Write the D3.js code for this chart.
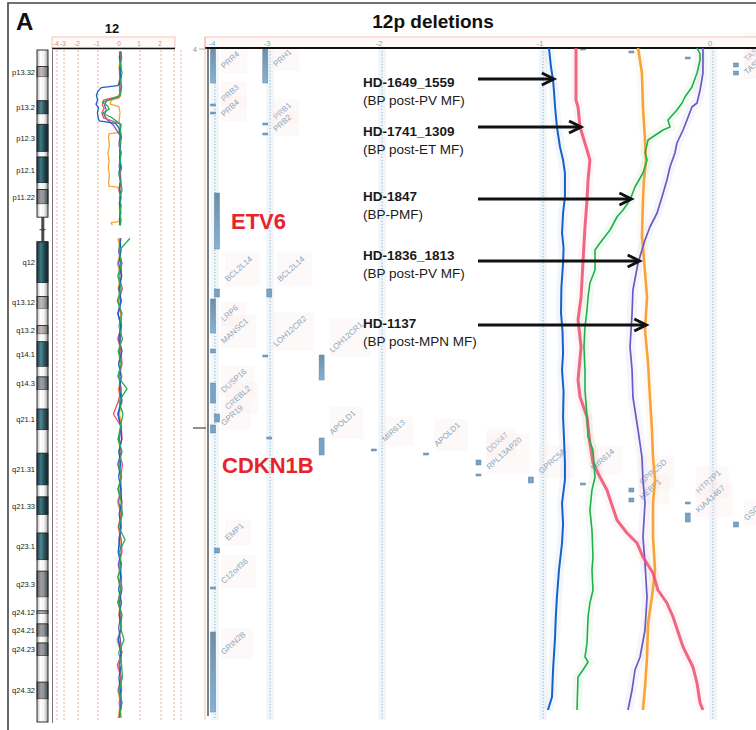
<!DOCTYPE html>
<html>
<head>
<meta charset="utf-8">
<script src="https://cdn.jsdelivr.net/npm/d3@7"></script>
<style>
  body { margin: 0; background: #fff; }
  svg { display: block; font-family: "Liberation Sans", Arial, sans-serif; }
</style>
</head>
<body>
<script>
// ---------------- samples ----------------
const sampleIds      = ["HD-1649_1559", "HD-1741_1309", "HD-1847", "HD-1836_1813", "HD-1137"];
const sampleSubtypes = ["(BP post-PV MF)", "(BP post-ET MF)", "(BP-PMF)", "(BP post-PV MF)", "(BP post-MPN MF)"];

// ---------------- chromosome 12 ideogram (hg19, Mb) ----------------
const bandNames  = ["p13.33","p13.32","p13.31","p13.2","p13.1","p12.3","p12.2","p12.1","p11.23","p11.22","p11.21","p11.1",
                    "q11","q12","q13.11","q13.12","q13.13","q13.2","q13.3","q14.1","q14.2","q14.3","q15","q21.1","q21.2",
                    "q21.31","q21.32","q21.33","q22","q23.1","q23.2","q23.3","q24.11","q24.12","q24.13","q24.21","q24.22",
                    "q24.23","q24.31","q24.32","q24.33"];
const bandStart  = [0,3.3,5.4,10.1,12.8,14.8,20.3,21.3,26.5,27.8,30.7,33.3,
                    35.8,38.2,46.4,49.1,51.5,54.9,56.6,58.1,63.1,65.1,67.7,71.5,75.7,
                    80.3,86.7,89.0,92.6,96.2,101.6,103.8,109.0,111.7,112.3,114.3,116.8,
                    118.1,120.7,125.9,129.3];
const bandEnd    = [3.3,5.4,10.1,12.8,14.8,20.3,21.3,26.5,27.8,30.7,33.3,35.8,
                    38.2,46.4,49.1,51.5,54.9,56.6,58.1,63.1,65.1,67.7,71.5,75.7,80.3,
                    86.7,89.0,92.6,96.2,101.6,103.8,109.0,111.7,112.3,114.3,116.8,118.1,
                    120.7,125.9,129.3,133.85];
const bandStain  = ["gneg","gpos25","gneg","gpos75","gneg","gpos100","gneg","gpos100","gneg","gpos50","gneg","acen",
                    "acen","gpos100","gneg","gpos25","gneg","gpos25","gneg","gpos75","gneg","gpos50","gneg","gpos75","gneg",
                    "gpos100","gneg","gpos100","gneg","gpos75","gneg","gpos50","gneg","gpos25","gneg","gpos50","gneg",
                    "gpos50","gneg","gpos50","gneg"];
const labeledBands = ["p13.32","p13.2","p12.3","p12.1","p11.22","q12","q13.12","q13.2","q14.1","q14.3","q21.1",
                      "q21.31","q21.33","q23.1","q23.3","q24.12","q24.21","q24.23","q24.32"];
const chrLength = 133.85, pArmEnd = 33.3, qArmStart = 38.2, centromere = 35.8;

// ---------------- whole-chromosome log2 ratio (Mb, log2) ----------------
const chrP_blue = [[0.3,0.02],[1.5,-0.03],[3,0.04],[4.5,0.0],[5.5,0.05],[6.5,-0.02],[7.1,-0.1],[7.5,-0.85],[8.2,-1.0],[9,-1.08],
  [10,-1.02],[10.8,-1.1],[11.5,-0.98],[12.5,-1.03],[13.3,-1.0],[14.1,-0.95],[14.6,-0.2],[15.5,-0.05],[17,0.02],[18.5,-0.04],
  [20,0.03],[21.5,-0.02],[23,0.04],[24.5,-0.05],[26,0.02],[27.5,-0.03],[29,0.04],[30.5,-0.02],[32,0.03],[33.5,-0.01],[34.9,0.02]];
const chrP_red = [[0.3,0.03],[2,0.0],[3.5,0.05],[5,-0.02],[6.5,0.04],[8,-0.03],[9.2,0.02],[9.6,-0.4],[10,-0.75],[11,-0.8],
  [11.6,-0.72],[12.5,-0.82],[13.5,-0.75],[14.2,-0.3],[14.8,0.05],[16,-0.02],[17.5,0.05],[19,-0.03],[20.5,0.04],[22,-0.02],
  [23.5,0.05],[25,0.0],[26.5,0.04],[28,-0.03],[29.5,0.05],[31,0.0],[32.5,0.04],[34,-0.02],[34.9,0.03]];
const chrP_green = [[0.3,0.05],[1.5,0.08],[3,0.02],[4.5,0.1],[6,0.04],[7.5,0.08],[9,0.02],[9.8,-0.35],[10.4,-0.8],[11.2,-0.55],
  [11.8,-0.5],[12.6,-0.8],[13.4,-0.4],[14.2,-0.15],[14.9,0.05],[16,0.02],[17.5,0.08],[19,-0.04],[20.5,0.06],[22,0.0],
  [23.5,0.08],[25,-0.04],[26.5,0.05],[28,0.1],[29.5,-0.03],[31,0.06],[32.5,0.0],[34,0.05],[34.9,0.02]];
const chrP_purple = [[0.3,0.0],[2,0.04],[3.5,-0.02],[5,0.03],[6.5,-0.04],[8,0.02],[9.4,-0.05],[10,-0.6],[11,-0.7],[12,-0.62],
  [13,-0.72],[14,-0.55],[15,-0.3],[16.3,-0.1],[17,0.0],[18.5,0.04],[20,-0.02],[21.5,0.03],[23,-0.04],[24.5,0.02],
  [26,0.04],[27.5,-0.02],[29,0.03],[30.5,-0.03],[32,0.02],[33.5,0.0],[34.9,-0.02]];
const chrP_orange = [[0.3,-0.03],[2,0.02],[3.5,-0.05],[5,0.01],[6.5,-0.04],[8,0.0],[9.6,-0.05],[10,-0.4],[10.8,-0.45],[11.3,-0.05],
  [12.5,0.0],[14,-0.04],[15.5,0.0],[16.4,-0.05],[16.7,-0.5],[17.5,-0.52],[19,-0.48],[20.5,-0.55],[22,-0.5],[23.5,-0.53],
  [25,-0.48],[26.5,-0.52],[27.1,-0.5],[27.3,-0.1],[28.5,-0.02],[30,0.02],[31.5,-0.03],[33,0.0],[34.2,-0.05],[34.4,-0.4],[34.9,-0.35]];

const qPos = [37.5,40,42.5,45,47.5,50,52.5,55,57.5,60,
              62.5,65,67.5,70,72.5,75,77.5,80,82.5,85,
              87.5,90,92.5,95,97.5,100,102.5,105,107.5,110,
              112.5,115,117.5,120,122.5,125,127.5,130,133];
const chrQ_blue   = [0,0.05,-0.06,0.08,-0.04,0.06,-0.08,0.04,-0.05,0.1,
                     -0.06,0.05,-0.02,0.06,-0.1,0.04,0.08,-0.05,0.03,-0.06,
                     0.05,0.08,-0.04,0.06,-0.03,-0.08,0.05,0.02,-0.06,0.07,
                     -0.03,0.05,-0.08,0.04,0.06,-0.05,0.02,0.08,-0.04];
const chrQ_red    = [0.05,-0.04,0.1,-0.05,0.12,-0.06,0.04,0.08,-0.1,0.05,
                     0.1,-0.04,0.06,-0.08,-0.3,0.06,0.1,-0.05,0.12,0.04,
                     -0.06,0.1,0.05,-0.08,0.06,0.1,-0.04,0.08,0.02,-0.1,
                     0.06,0.04,-0.06,0.1,-0.12,0.05,0.08,-0.04,0.06];
const chrQ_green  = [0.5,-0.05,0.08,-0.1,0.05,-0.12,0.1,-0.05,0.12,-0.08,
                     0.06,-0.1,0.35,-0.05,0.15,0.02,-0.08,0.1,-0.05,0.08,
                     -0.1,0.06,0.12,-0.06,0.25,-0.04,0.08,-0.1,0.05,-0.08,
                     0.1,0.02,0.2,-0.06,0.08,0.12,-0.05,0.1,-0.02];
const chrQ_purple = [0.02,-0.06,0.04,0.08,-0.05,0.03,-0.1,0.06,0.02,-0.04,
                     0.08,-0.06,0.04,0.1,-0.08,0.05,-0.03,0.06,-0.1,0.04,
                     0.02,-0.06,0.08,0.03,-0.05,0.06,-0.08,0.04,0.1,-0.03,
                     0.05,-0.06,0.02,0.08,-0.04,0.03,-0.06,0.05,-0.02];
const chrQ_orange = [-0.1,0.04,-0.12,0.02,-0.08,0.06,-0.1,0.08,-0.04,0.02,
                     -0.06,0.1,-0.08,0.04,-0.02,0.06,-0.1,0.05,-0.06,0.02,
                     0.08,-0.12,0.04,-0.05,0.03,-0.08,0.06,-0.1,0.04,0.02,
                     -0.06,0.08,-0.14,0.05,-0.04,0.06,-0.1,0.02,-0.08];

// ---------------- 12p detail (Mb, log2) ----------------
const zoom_blue = [[11.0,-0.965],[11.095,-0.953],[11.16,-0.941],[11.22,-0.935],[11.295,-0.929],[11.395,-0.918],[11.495,-0.9],
  [11.56,-0.882],[11.625,-0.871],[11.745,-0.871],[11.825,-0.882],[11.925,-0.888],[12.0,-0.879],[12.075,-0.882],[12.2,-0.892],
  [12.325,-0.894],[12.42,-0.885],[12.525,-0.882],[12.61,-0.888],[12.72,-0.879],[12.845,-0.882],[12.96,-0.876],[13.075,-0.871],
  [13.16,-0.871],[13.275,-0.888],[13.38,-0.882],[13.475,-0.888],[13.61,-0.906],[13.745,-0.918],[13.85,-0.925],[13.945,-0.929],
  [14.11,-0.941],[14.245,-0.947],[14.31,-0.971]];
const zoom_red = [[11.0,-0.806],[11.26,-0.806],[11.295,-0.794],[11.395,-0.782],[11.51,-0.741],[11.56,-0.724],[11.66,-0.735],
  [11.76,-0.741],[11.895,-0.753],[12.075,-0.765],[12.245,-0.776],[12.36,-0.794],[12.495,-0.776],[12.66,-0.794],[12.745,-0.782],
  [12.845,-0.741],[12.975,-0.724],[13.075,-0.706],[13.145,-0.665],[13.21,-0.624],[13.36,-0.565],[13.425,-0.506],[13.475,-0.447],
  [13.545,-0.412],[13.625,-0.353],[13.71,-0.324],[13.775,-0.271],[13.845,-0.235],[13.995,-0.176],[14.095,-0.118],[14.175,-0.094],
  [14.275,-0.076],[14.31,-0.059]];
const zoom_green = [[11.0,-0.094],[11.03,-0.076],[11.06,-0.076],[11.125,-0.094],[11.195,-0.124],[11.245,-0.165],[11.275,-0.182],
  [11.31,-0.212],[11.36,-0.265],[11.395,-0.253],[11.41,-0.294],[11.46,-0.382],[11.525,-0.4],[11.56,-0.388],[11.625,-0.412],
  [11.695,-0.459],[11.76,-0.488],[11.81,-0.529],[11.845,-0.565],[11.91,-0.606],[11.975,-0.665],[12.01,-0.694],[12.11,-0.694],
  [12.175,-0.724],[12.245,-0.735],[12.31,-0.741],[12.395,-0.753],[12.495,-0.759],[12.61,-0.753],[12.71,-0.753],[12.845,-0.741],
  [12.945,-0.735],[13.01,-0.706],[13.145,-0.694],[13.21,-0.712],[13.31,-0.724],[13.41,-0.712],[13.545,-0.706],[13.61,-0.712],
  [13.71,-0.706],[13.775,-0.724],[13.845,-0.735],[13.975,-0.741],[14.045,-0.753],[14.07,-0.735],[14.11,-0.765],[14.145,-0.794],
  [14.31,-0.8]];
const zoom_purple = [[11.0,-0.059],[11.125,-0.059],[11.21,-0.076],[11.275,-0.094],[11.295,-0.124],[11.36,-0.153],[11.41,-0.176],
  [11.475,-0.212],[11.525,-0.224],[11.595,-0.253],[11.66,-0.271],[11.745,-0.3],[11.825,-0.329],[11.895,-0.371],[11.96,-0.4],
  [12.075,-0.441],[12.21,-0.471],[12.325,-0.476],[12.495,-0.488],[12.61,-0.476],[12.745,-0.471],[12.91,-0.441],[13.045,-0.418],
  [13.16,-0.412],[13.275,-0.4],[13.445,-0.412],[13.575,-0.4],[13.745,-0.388],[13.91,-0.4],[14.045,-0.429],[14.11,-0.459],
  [14.21,-0.476],[14.31,-0.5]];
const zoom_orange = [[11.0,-0.441],[11.125,-0.418],[11.295,-0.412],[11.46,-0.4],[11.56,-0.394],[11.66,-0.406],[11.76,-0.412],
  [11.945,-0.418],[11.995,-0.412],[12.245,-0.388],[12.41,-0.4],[12.575,-0.382],[12.745,-0.371],[12.91,-0.359],[13.045,-0.353],
  [13.16,-0.341],[13.275,-0.353],[13.445,-0.353],[13.61,-0.341],[13.745,-0.359],[13.875,-0.382],[14.045,-0.388],[14.195,-0.4],
  [14.31,-0.412]];

// callouts: arrow position and label position on the genome axis (Mb)
const arrowMb = [11.155, 11.395, 11.755, 12.065, 12.385];
const labelMb = [11.195, 11.44, 11.765, 12.06, 12.40];

// ---------------- gene track ----------------
const geneNames  = ["PRR4","PRB3","PRB4","PRH1","PRB1","PRB2","ETV6","BCL2L14","BCL2L14","LRP6","MANSC1","LOH12CR2",
                    "LOH12CR1","DUSP16","CREBL2","GPR19","CDKN1B","APOLD1","MIR613","APOLD1","DDX47","RPL13AP20",
                    "GPRC5A","MIR614","GPRC5D","HEBP1","HTR7P1","KIAA1467","GSG1","EMP1","C12orf36","GRIN2B",
                    "","","","TAS2R14","TAS2R50"];
const geneCol    = [0,0,0,1,1,1,0,0,1,0,0,1,2,0,0,0,1,2,3,4,5,5,6,7,8,8,9,9,10,0,0,0,7,8,9,10,10];
const geneLane   = [0,0,0,0,0,0,1,1,1,0,0,0,1,0,1,0,1,1,1,1,1,1,1,1,0,0,1,1,0,1,0,0,1,0,1,0,0];
const geneStart  = [11.0,11.28,11.32,11.0,11.375,11.425,11.725,12.205,12.205,12.255,12.505,12.535,
                    12.535,12.675,12.83,12.885,12.945,12.95,13.005,13.025,13.06,13.13,
                    13.145,13.175,13.2,13.25,13.27,13.325,13.37,13.5,13.695,13.92,
                    11.0,11.015,11.045,11.075,11.115];
const geneEnd    = [11.175,11.29,11.33,11.175,11.385,11.435,12.005,12.245,12.245,12.425,12.525,12.545,
                    12.66,12.775,12.87,12.925,12.955,13.035,13.015,13.035,13.085,13.14,
                    13.175,13.185,13.22,13.27,13.28,13.37,13.395,13.525,13.705,14.32,
                    11.01,11.025,11.055,11.095,11.135];
const geneLabelMb = [11.105,11.27,11.345,11.095,11.36,11.42,null,12.17,12.17,12.37,12.48,12.495,
                     12.525,12.725,12.81,12.89,null,12.935,12.97,12.995,13.025,13.11,
                     13.13,13.115,13.185,13.26,13.23,13.325,13.365,13.465,13.68,14.035,
                     null,null,null,11.07,11.135];
const highlightGenes = ["ETV6", "CDKN1B"];

// ---------------- axes ----------------
const logTicks = [-4,-3,-2,-1,0,1,2,3,4];
const overviewTickLabels = [-4,-3,-2,-1,0,1,2];
const detailTicks = [-4,-3,-2,-1,0];

// ---------------- drawing ----------------
const W = 756, H = 730;
const colors = ["#1662c4", "#ec4f6e", "#20b04a", "#6a5bc2", "#f6a43a"];

const svg = d3.select("body").append("svg").attr("width", W).attr("height", H);
const defs = svg.append("defs");

function hGrad(id, stops) {
  const g = defs.append("linearGradient").attr("id", id).attr("x1", 0).attr("x2", 1).attr("y1", 0).attr("y2", 0);
  stops.forEach(([o, c]) => g.append("stop").attr("offset", o).attr("stop-color", c));
}
hGrad("st-gneg",    [[0,"#b9b9b9"],[0.3,"#ffffff"],[0.65,"#f2f2f2"],[1,"#9c9c9c"]]);
hGrad("st-gpos100", [[0,"#1d343b"],[0.35,"#3e7a86"],[0.6,"#28525c"],[1,"#121c20"]]);
hGrad("st-gpos75",  [[0,"#2a3f46"],[0.35,"#4d8993"],[0.6,"#375e67"],[1,"#1a272b"]]);
hGrad("st-gpos50",  [[0,"#5f5f63"],[0.35,"#a59c9e"],[0.6,"#86979b"],[1,"#464849"]]);
hGrad("st-gpos25",  [[0,"#838383"],[0.35,"#c4b9b9"],[0.6,"#a7abac"],[1,"#666"]]);
const vg = defs.append("linearGradient").attr("id", "gene-bar").attr("x1", 0).attr("x2", 0).attr("y1", 0).attr("y2", 1);
vg.append("stop").attr("offset", 0).attr("stop-color", "#6e8ea6");
vg.append("stop").attr("offset", 1).attr("stop-color", "#86b2d6");

// frame
svg.append("path").attr("d", `M8,${H} L8,3 L${W},3`).attr("fill", "none").attr("stroke", "#444").attr("stroke-width", 1.6);
svg.append("text").attr("x", 16).attr("y", 30).attr("font-size", 24).attr("font-weight", "bold").attr("fill", "#111").text("A");

// ======== overview panel: whole chromosome 12 ========
const xL = d3.scaleLinear().domain(logTicks).range([57,64,78,98,120,140,161,174,181]);
const yL = d3.scaleLinear().domain([0, chrLength]).range([50, 722]);

svg.append("text").attr("x", 112).attr("y", 33).attr("text-anchor", "middle")
  .attr("font-size", 13).attr("font-weight", "bold").attr("fill", "#111").text("12");

// axis strip
svg.append("rect").attr("x", 52).attr("y", 37).attr("width", 123).attr("height", 11)
  .attr("fill", "#fffaf8").attr("stroke", "#f2b7a3").attr("stroke-width", 0.8);
svg.append("line").attr("x1", 52).attr("x2", 175).attr("y1", 48.5).attr("y2", 48.5).attr("stroke", "#111").attr("stroke-width", 1.6);
svg.append("g").selectAll("text").data(overviewTickLabels).join("text")
  .attr("x", d => xL(d) - 1).attr("y", 45.5).attr("text-anchor", "middle")
  .attr("font-size", 6.5).attr("fill", "#e0876a").text(d => d);

// grid
svg.append("g").selectAll("line").data(logTicks.filter(d => d !== 0)).join("line")
  .attr("x1", d => xL(d)).attr("x2", d => xL(d)).attr("y1", 50).attr("y2", 722)
  .attr("stroke", "#e79a86").attr("stroke-width", 0.8).attr("stroke-dasharray", "2,2");
svg.append("line").attr("x1", 52.5).attr("x2", 52.5).attr("y1", 50).attr("y2", 723).attr("stroke", "#777").attr("stroke-width", 1);

// ideogram
const bands = bandNames.map((n, i) => ({ name: n, s: bandStart[i], e: bandEnd[i], stain: bandStain[i] }));
const ideoX = 37, ideoW = 11;
const ideo = svg.append("g");
ideo.selectAll("rect.band").data(bands.filter(b => b.stain !== "acen")).join("rect")
  .attr("x", ideoX).attr("width", ideoW)
  .attr("y", d => yL(d.s)).attr("height", d => yL(d.e) - yL(d.s))
  .attr("fill", d => `url(#st-${d.stain})`)
  .attr("stroke", d => d.stain === "gneg" ? "none" : "#111").attr("stroke-width", 0.8);
// centromere
ideo.append("rect").attr("x", 41.3).attr("width", 3)
  .attr("y", yL(pArmEnd)).attr("height", yL(qArmStart) - yL(pArmEnd)).attr("fill", "#4a4a4a");
ideo.append("line").attr("x1", 39.5).attr("x2", 45.5).attr("y1", yL(centromere)).attr("y2", yL(centromere))
  .attr("stroke", "#333").attr("stroke-width", 1);
// arm outlines
[[0, pArmEnd], [qArmStart, chrLength]].forEach(([s, e]) => {
  ideo.append("rect").attr("x", ideoX).attr("y", yL(s)).attr("width", ideoW).attr("height", yL(e) - yL(s))
    .attr("fill", "none").attr("stroke", "#333").attr("stroke-width", 1);
});
// band labels
svg.append("g").selectAll("text").data(bands.filter(b => labeledBands.includes(b.name))).join("text")
  .attr("x", 35).attr("y", d => yL((d.s + d.e) / 2) + 2.8).attr("text-anchor", "end")
  .attr("font-family", "'Liberation Sans Narrow', 'Liberation Sans', Arial, sans-serif")
  .attr("font-size", 7.5).attr("fill", "#222").text(d => d.name);

// overview traces
const chrP = [chrP_blue, chrP_red, chrP_green, chrP_purple, chrP_orange];
const chrQ = [chrQ_blue, chrQ_red, chrQ_green, chrQ_purple, chrQ_orange];
const lineL = d3.line().x(d => xL(d[1])).y(d => yL(d[0]));
const overviewOrder = [4, 3, 1, 0, 2];
overviewOrder.forEach(i => {
  const g = svg.append("g").attr("fill", "none").attr("stroke", colors[i]).attr("stroke-width", 1.3)
    .attr("stroke-linejoin", "round");
  g.append("path").attr("d", lineL(chrP[i]));
  g.append("path").attr("d", lineL(qPos.map((p, k) => [p, chrQ[i][k]])));
});

// ======== detail panel: 12p deletions ========
const xR = d3.scaleLinear().domain([-4,-3,-2,-1,0,1]).range([215,270,382,543,713,883]);
const yR = d3.scaleLinear().domain([11.0, 14.32]).range([48, 712]);

svg.append("text").attr("x", 433).attr("y", 28).attr("text-anchor", "middle")
  .attr("font-size", 19).attr("font-weight", "bold").attr("fill", "#111").text("12p deletions");

// grid columns
const grid = svg.append("g");
grid.selectAll("rect").data(detailTicks).join("rect")
  .attr("x", d => xR(d) - 4).attr("width", 8).attr("y", 48).attr("height", 672)
  .attr("fill", "#eef2f5").attr("opacity", 0.7);
grid.selectAll("line").data(detailTicks).join("line")
  .attr("x1", d => xR(d)).attr("x2", d => xR(d)).attr("y1", 48).attr("y2", 720)
  .attr("stroke", "#6cb4dc").attr("stroke-width", 1).attr("stroke-dasharray", "1.2,2");

// gene track
const colX = d3.scalePoint().domain(d3.range(11)).range([213, 736]);
const genes = geneNames.map((n, i) => ({
  name: n, col: geneCol[i], lane: geneLane[i], s: geneStart[i], e: geneEnd[i], lab: geneLabelMb[i]
}));
const gx = d => colX(d.col) + d.lane * 4;

const labG = svg.append("g");
genes.filter(d => d.lab !== null && d.name).forEach(d => {
  const x = gx(d) + 11, y = yR(d.lab);
  const g = labG.append("g");
  const r = g.append("rect");
  const t = g.append("text").attr("transform", `translate(${x},${y}) rotate(-42)`)
    .attr("font-size", 8).attr("fill", "#8aa6ba").text(d.name);
  const L = t.node().getComputedTextLength();
  const a = 42 * Math.PI / 180;
  const bw = L * Math.cos(a) + 8 * Math.sin(a), bh = L * Math.sin(a) + 8 * Math.cos(a);
  r.attr("x", x - 3).attr("y", y - bh - 1).attr("width", bw + 5).attr("height", bh + 5)
    .attr("fill", "#fbe9e6").attr("opacity", 0.25);
});

svg.append("g").selectAll("rect").data(genes).join("rect")
  .attr("x", d => gx(d) - 2.5).attr("width", 5)
  .attr("y", d => yR(d.s)).attr("height", d => Math.max(2, yR(d.e) - yR(d.s)))
  .attr("fill", d => (yR(d.e) - yR(d.s)) > 20 ? "url(#gene-bar)" : "#76a3c6")
  .attr("stroke", "#5a86a8").attr("stroke-width", 0.5);

// highlighted genes
const hl = genes.filter(d => highlightGenes.includes(d.name));
const hlX = { "ETV6": 231, "CDKN1B": 222 };
const hlDy = { "ETV6": 8, "CDKN1B": 35 };
svg.append("g").selectAll("text").data(hl).join("text")
  .attr("x", d => hlX[d.name]).attr("y", d => yR((d.s + d.e) / 2) + hlDy[d.name])
  .attr("font-size", 22).attr("font-weight", "bold").attr("fill", "#e8232b").text(d => d.name);

// axis strip
svg.append("rect").attr("x", 205).attr("y", 37).attr("width", 560).attr("height", 11)
  .attr("fill", "#fffaf8").attr("stroke", "#f2b7a3").attr("stroke-width", 0.8);
svg.append("line").attr("x1", 205).attr("x2", W).attr("y1", 48).attr("y2", 48).attr("stroke", "#111").attr("stroke-width", 2);
svg.append("g").selectAll("text").data(detailTicks).join("text")
  .attr("x", d => xR(d) - 3).attr("y", 45.5).attr("text-anchor", "middle")
  .attr("font-size", 8).attr("fill", "#6aaed6").text(d => d);

// left edge of the detail panel
svg.append("line").attr("x1", 205).attr("x2", 205).attr("y1", 37).attr("y2", 720).attr("stroke", "#f2a58f").attr("stroke-width", 1).attr("opacity", 0.7);
svg.append("line").attr("x1", 208).attr("x2", 208).attr("y1", 48).attr("y2", 716).attr("stroke", "#1d2c33").attr("stroke-width", 1.2);
svg.append("line").attr("x1", 193).attr("x2", 206).attr("y1", yR(12.9)).attr("y2", yR(12.9)).attr("stroke", "#222").attr("stroke-width", 1);
svg.append("line").attr("x1", 199).attr("x2", 206).attr("y1", yR(11.0) + 1).attr("y2", yR(11.0) + 1).attr("stroke", "#999").attr("stroke-width", 0.8);
svg.append("text").attr("x", 193).attr("y", 52).attr("font-size", 7).attr("fill", "#888").text("4");

// detail traces
const zoomSeries = [zoom_blue, zoom_red, zoom_green, zoom_purple, zoom_orange];
const lineR = d3.line().x(d => xR(d[1])).y(d => yR(d[0]));
const detailOrder = [4, 3, 1, 2, 0];
const widths = [2, 3, 1.6, 1.7, 2.6];
detailOrder.forEach(i => {
  svg.append("path").attr("d", lineR(zoomSeries[i])).attr("fill", "none")
    .attr("stroke", colors[i]).attr("stroke-width", 10).attr("opacity", 0.06);
});
detailOrder.forEach(i => {
  svg.append("path").attr("d", lineR(zoomSeries[i])).attr("fill", "none")
    .attr("stroke", colors[i]).attr("stroke-width", widths[i]).attr("stroke-linejoin", "round")
    .attr("opacity", i === 1 ? 0.85 : 1);
});

// callouts
function valueAt(pts, mb) {
  for (let k = 1; k < pts.length; k++) {
    if (pts[k][0] >= mb) {
      const [a, va] = pts[k - 1], [b, vb] = pts[k];
      return va + (vb - va) * (mb - a) / (b - a);
    }
  }
  return pts[pts.length - 1][1];
}
const callouts = svg.append("g");
sampleIds.forEach((id, i) => {
  const ly = yR(labelMb[i]);
  callouts.append("text").attr("x", 363).attr("y", ly).attr("font-size", 13.5).attr("font-weight", "bold")
    .attr("fill", "#1a1a1a").text(id);
  callouts.append("text").attr("x", 363).attr("y", ly + 18).attr("font-size", 13.5).attr("fill", "#1a1a1a")
    .text(sampleSubtypes[i]);
  const ay = yR(arrowMb[i]);
  const tip = xR(valueAt(zoomSeries[i], arrowMb[i])) + 1;
  callouts.append("line").attr("x1", 478).attr("x2", tip - 2).attr("y1", ay).attr("y2", ay)
    .attr("stroke", "#111").attr("stroke-width", 3);
  callouts.append("path").attr("d", `M${tip - 12},${ay - 6} L${tip},${ay} L${tip - 12},${ay + 6}`)
    .attr("fill", "none").attr("stroke", "#111").attr("stroke-width", 3).attr("stroke-linejoin", "miter");
});
</script>
</body>
</html>
